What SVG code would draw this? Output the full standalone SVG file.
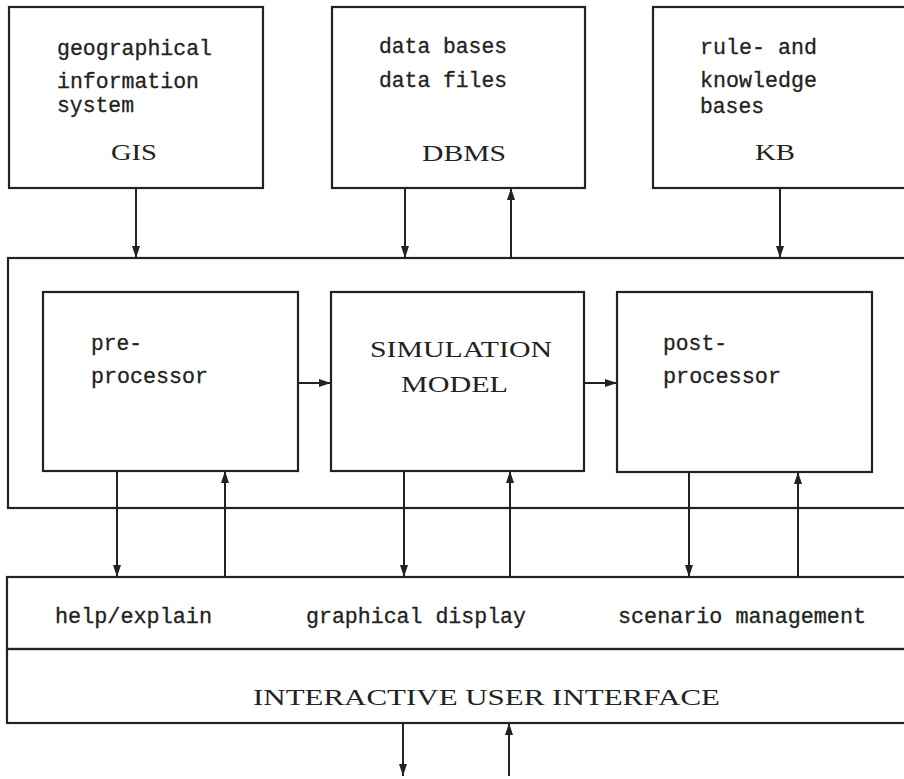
<svg xmlns="http://www.w3.org/2000/svg" width="904" height="779" viewBox="0 0 904 779">
<style>
.box{fill:none;stroke:#222;stroke-width:2.2}
.ln{stroke:#222;stroke-width:2;fill:none}
.tt{font-family:"Liberation Mono","DejaVu Sans Mono",monospace;font-size:22px;fill:#222;stroke:#222;stroke-width:0.3}
.rm{font-family:"Liberation Serif","DejaVu Serif",serif;font-size:23px;fill:#222}
</style>
<defs>
<marker id="ah" viewBox="0 0 12 8" refX="12" refY="4" markerWidth="12" markerHeight="8" markerUnits="userSpaceOnUse" orient="auto">
<path d="M0,0 L12,4 L0,8 Z" fill="#222"/>
</marker>
</defs>
<rect width="904" height="779" fill="#fff"/>
<g id="gis">
<rect class="box" x="9" y="7" width="254" height="181"/>
<text class="tt" x="57" y="55" textLength="155" lengthAdjust="spacingAndGlyphs">geographical</text>
<text class="tt" x="57" y="88" textLength="142" lengthAdjust="spacingAndGlyphs">information</text>
<text class="tt" x="57" y="112" textLength="77" lengthAdjust="spacingAndGlyphs">system</text>
<text class="rm" x="111" y="160" textLength="46" lengthAdjust="spacingAndGlyphs">GIS</text>
</g>
<g id="dbms">
<rect class="box" x="332" y="7" width="253" height="181"/>
<text class="tt" x="379" y="53" textLength="128" lengthAdjust="spacingAndGlyphs">data bases</text>
<text class="tt" x="379" y="87" textLength="128" lengthAdjust="spacingAndGlyphs">data files</text>
<text class="rm" x="422" y="161" textLength="84" lengthAdjust="spacingAndGlyphs">DBMS</text>
</g>
<g id="kb">
<rect class="box" x="653" y="7" width="260" height="181"/>
<text class="tt" x="700" y="54" textLength="117" lengthAdjust="spacingAndGlyphs">rule- and</text>
<text class="tt" x="700" y="87" textLength="117" lengthAdjust="spacingAndGlyphs">knowledge</text>
<text class="tt" x="700" y="113" textLength="64" lengthAdjust="spacingAndGlyphs">bases</text>
<text class="rm" x="755" y="160" textLength="40" lengthAdjust="spacingAndGlyphs">KB</text>
</g>
<g id="container">
<rect class="box" x="8" y="258" width="910" height="250"/>
</g>
<g id="preprocessor">
<rect class="box" x="43" y="292" width="255" height="179"/>
<text class="tt" x="91" y="350" textLength="51" lengthAdjust="spacingAndGlyphs">pre-</text>
<text class="tt" x="91" y="383" textLength="117" lengthAdjust="spacingAndGlyphs">processor</text>
</g>
<g id="simulation">
<rect class="box" x="331" y="292" width="253" height="179"/>
<text class="rm" x="370" y="357" textLength="182" lengthAdjust="spacingAndGlyphs">SIMULATION</text>
<text class="rm" x="401" y="392" textLength="107" lengthAdjust="spacingAndGlyphs">MODEL</text>
</g>
<g id="postprocessor">
<rect class="box" x="617" y="292" width="255" height="180"/>
<text class="tt" x="663" y="350" textLength="64" lengthAdjust="spacingAndGlyphs">post-</text>
<text class="tt" x="663" y="383" textLength="118" lengthAdjust="spacingAndGlyphs">processor</text>
</g>
<g id="services">
<rect class="box" x="7" y="577" width="910" height="72"/>
<text class="tt" x="55" y="623" textLength="157" lengthAdjust="spacingAndGlyphs">help/explain</text>
<text class="tt" x="306" y="623" textLength="220" lengthAdjust="spacingAndGlyphs">graphical display</text>
<text class="tt" x="618" y="623" textLength="248" lengthAdjust="spacingAndGlyphs">scenario management</text>
</g>
<g id="ui">
<rect class="box" x="7" y="649" width="910" height="74"/>
<text class="rm" x="253" y="705" font-size="21" textLength="467" lengthAdjust="spacingAndGlyphs">INTERACTIVE USER INTERFACE</text>
</g>
<g id="connectors">
<line class="ln" x1="136" y1="188" x2="136" y2="258" marker-end="url(#ah)"/>
<line class="ln" x1="405" y1="188" x2="405" y2="258" marker-end="url(#ah)"/>
<line class="ln" x1="511" y1="258" x2="511" y2="188" marker-end="url(#ah)"/>
<line class="ln" x1="780" y1="188" x2="780" y2="258" marker-end="url(#ah)"/>
<line class="ln" x1="298" y1="383" x2="331" y2="383" marker-end="url(#ah)"/>
<line class="ln" x1="584" y1="383" x2="617" y2="383" marker-end="url(#ah)"/>
<line class="ln" x1="117" y1="471" x2="117" y2="577" marker-end="url(#ah)"/>
<line class="ln" x1="225" y1="577" x2="225" y2="471" marker-end="url(#ah)"/>
<line class="ln" x1="404" y1="471" x2="404" y2="577" marker-end="url(#ah)"/>
<line class="ln" x1="510" y1="577" x2="510" y2="471" marker-end="url(#ah)"/>
<line class="ln" x1="689" y1="472" x2="689" y2="577" marker-end="url(#ah)"/>
<line class="ln" x1="798" y1="577" x2="798" y2="472" marker-end="url(#ah)"/>
<line class="ln" x1="403" y1="723" x2="403" y2="776" marker-end="url(#ah)"/>
<line class="ln" x1="509" y1="776" x2="509" y2="723" marker-end="url(#ah)"/>
</g>
</svg>
